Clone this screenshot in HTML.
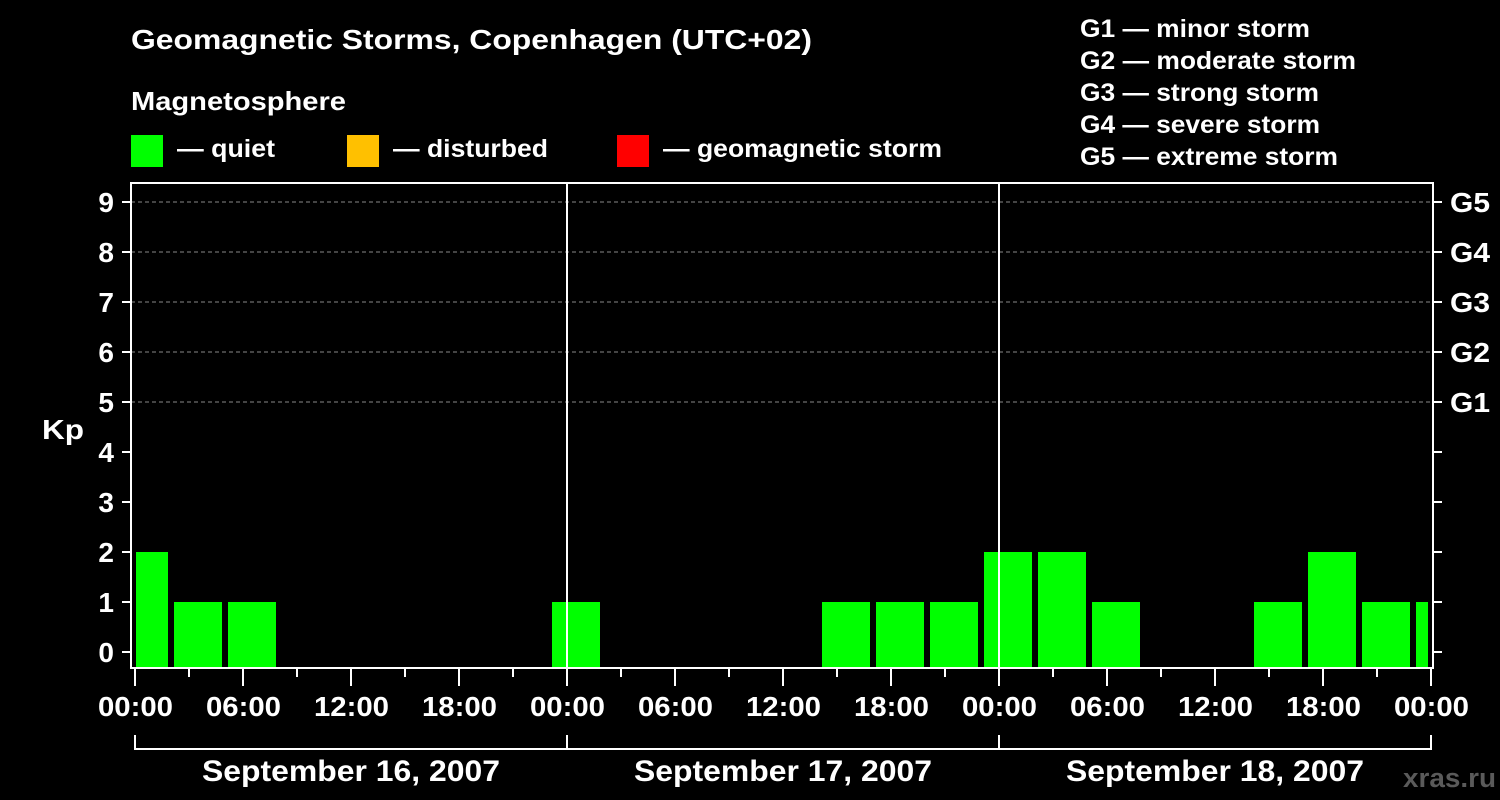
<!DOCTYPE html>
<html><head><meta charset="utf-8"><style>
body{margin:0;background:#000;width:1500px;height:800px;overflow:hidden}
svg{display:block}
text{font-family:"Liberation Sans",Arial,sans-serif;font-weight:bold;fill:#fff}
</style></head><body>
<svg id="c" width="1500" height="800">
<text x="131" y="49" font-size="28" textLength="681" lengthAdjust="spacingAndGlyphs">Geomagnetic Storms, Copenhagen (UTC+02)</text>
<text x="131" y="110" font-size="26" textLength="215" lengthAdjust="spacingAndGlyphs">Magnetosphere</text>
<g><rect x="131" y="135" width="32" height="32" fill="#00ff00"/><text x="177" y="157" font-size="25" textLength="98" lengthAdjust="spacingAndGlyphs">— quiet</text></g>
<g><rect x="347" y="135" width="32" height="32" fill="#ffc000"/><text x="393" y="157" font-size="25" textLength="155" lengthAdjust="spacingAndGlyphs">— disturbed</text></g>
<g><rect x="617" y="135" width="32" height="32" fill="#ff0000"/><text x="663" y="157" font-size="25" textLength="279" lengthAdjust="spacingAndGlyphs">— geomagnetic storm</text></g>
<g font-size="25">
<text x="1080" y="37" textLength="230" lengthAdjust="spacingAndGlyphs">G1 — minor storm</text>
<text x="1080" y="69" textLength="276" lengthAdjust="spacingAndGlyphs">G2 — moderate storm</text>
<text x="1080" y="101" textLength="239" lengthAdjust="spacingAndGlyphs">G3 — strong storm</text>
<text x="1080" y="133" textLength="240" lengthAdjust="spacingAndGlyphs">G4 — severe storm</text>
<text x="1080" y="165" textLength="258" lengthAdjust="spacingAndGlyphs">G5 — extreme storm</text>
</g>
<text x="42" y="439" font-size="28" textLength="42" lengthAdjust="spacingAndGlyphs">Kp</text>
<text x="1403" y="787" font-size="27" textLength="93" lengthAdjust="spacingAndGlyphs" style="fill:#5a5a5a">xras.ru</text>
<g id="grid"></g><g id="bars"></g><g id="axes"></g>
</svg>
<script>
const kpValues=[2,1,1,0,0,0,0,0,1,0,0,0,0,1,1,1,2,2,1,0,0,1,2,1,1];
const slotStartHours=[-1,2,5,8,11,14,17,20,23,26,29,32,35,38,41,44,47,50,53,56,59,62,65,68,71];
const dayLabels=["September 16, 2007","September 17, 2007","September 18, 2007"];
const hourLabels=["00:00","06:00","12:00","18:00"];
const gLabels=["G1","G2","G3","G4","G5"];
const NS="http://www.w3.org/2000/svg";
const X0=135,PXH=18,XMAX=1430,Y0=652,PXK=50;
const xs=h=>X0+h*PXH, ys=k=>Y0-k*PXK;
function mk(parent,tag,attrs){const e=document.createElementNS(NS,tag);for(const k in attrs)e.setAttribute(k,attrs[k]);document.getElementById(parent).appendChild(e);return e;}
for(let k=5;k<=9;k++){
 const l=mk('grid','line',{x1:131,x2:1433,y1:ys(k),y2:ys(k),stroke:'#888','stroke-dasharray':'4,3','stroke-width':1});
 
 
}
kpValues.forEach((v,i)=>{
 if(v<=0)return;
 let x1=Math.max(xs(slotStartHours[i])+3,136), x2=Math.min(xs(slotStartHours[i]+3)-3,XMAX-2);
 const color=v>=5?'#ff0000':(v>=4?'#ffc000':'#00ff00');
 const r=mk('bars','rect',{x:x1,y:ys(v),width:x2-x1,height:667-ys(v),fill:color});
 
 
});
const f=mk('axes','path',{d:'M131,183 H1433 V668 H131 Z',fill:'none',stroke:'#fff','stroke-width':2});


for(let d=1;d<3;d++){
 const l=mk('axes','line',{x1:xs(24*d),x2:xs(24*d),y1:183,y2:668,stroke:'#fff','stroke-width':2});
 
 
}
for(let k=0;k<=9;k++){
 mk('axes','line',{x1:122,x2:131,y1:ys(k),y2:ys(k),stroke:'#fff','stroke-width':2});
 mk('axes','line',{x1:1433,x2:1442,y1:ys(k),y2:ys(k),stroke:'#fff','stroke-width':2});
 const t=mk('axes','text',{x:114,y:ys(k)+10,'font-size':28,'text-anchor':'end'});t.textContent=k;
 
 
}
gLabels.forEach((g,i)=>{
 const t=mk('axes','text',{x:1450,y:ys(5+i)+10,'font-size':28,textLength:40,lengthAdjust:'spacingAndGlyphs'});t.textContent=g;
 
 
});
for(let h=0;h<=72;h+=3){
 const major=h%6===0;
 mk('axes','line',{x1:xs(h),x2:xs(h),y1:669,y2:major?686:677,stroke:'#fff','stroke-width':2});
 if(major){
  const t=mk('axes','text',{x:xs(h)-37,y:716,'font-size':28,textLength:75,lengthAdjust:'spacingAndGlyphs'});
  t.textContent=hourLabels[(h%24)/6];
  
  
 }
}
dayLabels.forEach((d,i)=>{
 const a=xs(24*i),b=xs(24*(i+1));
 mk('axes','path',{d:`M${a},735 V749 H${b} V735`,fill:'none',stroke:'#fff','stroke-width':2});
 const t=mk('axes','text',{x:(a+b)/2-149,y:781,'font-size':30,textLength:298,lengthAdjust:'spacingAndGlyphs'});t.textContent=d;
 
 
});
</script>
</body></html>
